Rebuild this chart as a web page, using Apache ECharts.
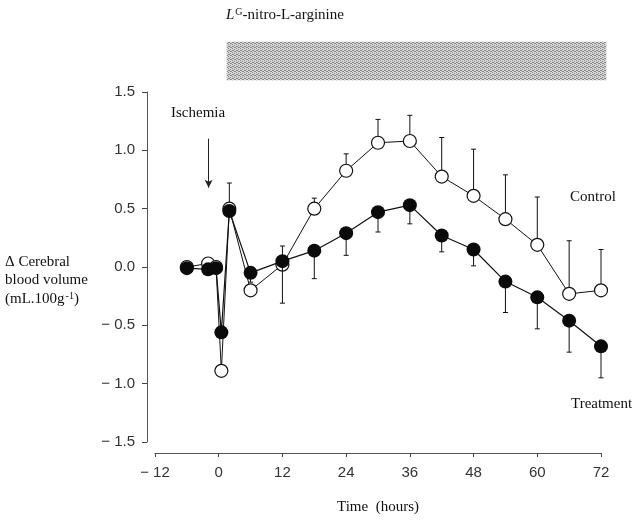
<!DOCTYPE html>
<html>
<head>
<meta charset="utf-8">
<script src="https://cdn.jsdelivr.net/npm/echarts@6/dist/echarts.min.js"></script>
<style>
html,body{margin:0;padding:0;background:#fff;}
#c{width:643px;height:524px;}
</style>
</head>
<body>
<div id="c"></div>
<script>
// ---- data ----
var times = [-6, -2, -0.5, 0.5, 2, 6, 12, 18, 24, 30, 36, 42, 48, 54, 60, 66, 72];
var control = [0.0, 0.03, 0.0, -0.89, 0.50, -0.20, 0.02, 0.50, 0.825, 1.065, 1.08, 0.775, 0.61, 0.41, 0.19, -0.23, -0.20];
var treatment = [-0.01, -0.02, -0.01, -0.56, 0.48, -0.05, 0.05, 0.14, 0.29, 0.47, 0.53, 0.27, 0.15, -0.125, -0.26, -0.46, -0.68];
// error bar ends (control: upper, treatment: lower); null = none
var controlErrTop = [null, null, null, null, 0.72, null, 0.18, 0.59, 0.97, 1.265, 1.30, 1.11, 1.01, 0.79, 0.60, 0.225, 0.15];
var treatmentErrBottom = [null, null, null, null, null, -0.13, -0.31, -0.10, 0.10, 0.30, 0.37, 0.13, 0.01, -0.39, -0.53, -0.73, -0.95];
var xTicks = [-12, 0, 12, 24, 36, 48, 60, 72];
var yTicks = [-1.5, -1.0, -0.5, 0.0, 0.5, 1.0, 1.5];
var drugPeriod = [1.5, 73];      // hours
var drugBand = [1.60, 1.93];     // drawn above the plot
var ischemiaTime = -1.9;
var ischemiaArrow = [1.10, 0.68];

var chart = echarts.init(document.getElementById('c'), null, {renderer: 'canvas'});

function pair(xs, ys) { return xs.map(function (x, i) { return [x, ys[i]]; }); }
function errData(ys, es) {
  var out = [];
  for (var i = 0; i < times.length; i++) if (es[i] !== null) out.push([times[i], ys[i], es[i]]);
  return out;
}

// stipple pattern
var pc = document.createElement('canvas');
pc.width = 4; pc.height = 4;
var pctx = pc.getContext('2d');
pctx.fillStyle = '#d6d6d6'; pctx.fillRect(0, 0, 4, 4);
pctx.fillStyle = '#8a8a8a';
[[0,0],[2,1],[1,2],[3,3],[2,3],[0,2]].forEach(function (p) { pctx.fillRect(p[0], p[1], 1, 1); });

function errRender(params, api) {
  var p1 = api.coord([api.value(0), api.value(1)]);
  var p2 = api.coord([api.value(0), api.value(2)]);
  var st = {stroke: '#111', lineWidth: 1};
  return {
    type: 'group',
    children: [
      {type: 'line', shape: {x1: p1[0], y1: p1[1], x2: p2[0], y2: p2[1]}, style: st},
      {type: 'line', shape: {x1: p2[0] - 2.5, y1: p2[1], x2: p2[0] + 2.5, y2: p2[1]}, style: st}
    ]
  };
}

var fmt = function (v) {
  var s = Math.abs(v);
  return (v < 0 ? '\u2212 ' : '') + s;
};

var serif = '"Liberation Serif", "Times New Roman", serif';
var sans = '"Liberation Sans", Arial, sans-serif';

var option = {
  animation: false,
  backgroundColor: '#fff',
  grid: {left: 155, right: 42, top: 92, bottom: 82},
  xAxis: {
    type: 'value', min: -12, max: 72, interval: 12, offset: 11,
    name: 'Time  (hours)', nameLocation: 'middle', nameGap: 47,
    nameTextStyle: {fontFamily: serif, fontSize: 15, color: '#111'},
    axisLine: {show: true, onZero: false, lineStyle: {color: '#555', width: 1}},
    axisTick: {show: true, length: 4, lineStyle: {color: '#444'}},
    axisLabel: {
      margin: 12, fontFamily: sans, fontSize: 15, color: '#333',
      formatter: function (v) { return xTicks.indexOf(v) >= 0 ? fmt(v) : ''; }
    },
    splitLine: {show: false}
  },
  yAxis: {
    type: 'value', min: -1.5, max: 1.5, interval: 0.5, offset: 8,
    axisLine: {show: true, onZero: false, lineStyle: {color: '#555', width: 1}},
    axisTick: {show: true, length: 5, lineStyle: {color: '#444'}},
    axisLabel: {
      margin: 12, fontFamily: sans, fontSize: 15, color: '#333',
      formatter: function (v) {
        var s = Math.abs(v).toFixed(1);
        return (v < 0 ? '\u2212 ' : '') + s;
      }
    },
    splitLine: {show: false}
  },
  graphic: [
    {type: 'text', style: {x: 171, y: 113, text: 'Ischemia', font: '15px ' + serif, fill: '#111', textVerticalAlign: 'middle'}},
    {type: 'text', style: {x: 570, y: 197, text: 'Control', font: '15px ' + serif, fill: '#111', textVerticalAlign: 'middle'}},
    {type: 'text', style: {x: 571, y: 404, text: 'Treatment', font: '15px ' + serif, fill: '#111', textVerticalAlign: 'middle'}},
    {type: 'text', style: {x: 5, y: 262, text: '\u0394 Cerebral', font: '15px ' + serif, fill: '#111', textVerticalAlign: 'middle'}},
    {type: 'text', style: {x: 5, y: 280, text: 'blood volume', font: '15px ' + serif, fill: '#111', textVerticalAlign: 'middle'}},
    {type: 'text', style: {
      x: 5, y: 291, text: '(mL.100g{s|-1})', fill: '#111', fontFamily: serif, fontSize: 15,
      rich: {s: {fontFamily: serif, fontSize: 10, verticalAlign: 'top', padding: [0, 0, 6, 1]}}
    }},
    {type: 'text', style: {
      x: 226, y: 7, text: '{i|L}{s|G}-nitro-L-arginine', fill: '#111', fontFamily: serif, fontSize: 15,
      rich: {
        i: {fontFamily: serif, fontSize: 15, fontStyle: 'italic'},
        s: {fontFamily: serif, fontSize: 10, verticalAlign: 'top', padding: [0, 0, 6, 1]}
      }
    }}
  ],
  series: [
    {
      type: 'custom', clip: false, silent: true, z: 1,
      renderItem: function (params, api) {
        var p1 = api.coord([api.value(0), api.value(3)]);
        var p2 = api.coord([api.value(1), api.value(2)]);
        return {type: 'rect', shape: {x: p1[0], y: p1[1], width: p2[0] - p1[0], height: p2[1] - p1[1]},
          style: {fill: {image: pc, repeat: 'repeat'}}};
      },
      encode: {x: [0, 1], y: [2, 3]},
      data: [[drugPeriod[0], drugPeriod[1], drugBand[0], drugBand[1]]],
      markLine: {
        silent: true, animation: false,
        label: {show: false},
        data: [
          [{coord: [-13.3, 0], symbol: 'none'}, {coord: [73.1, 0], symbol: 'none'}]
        ],
        lineStyle: {type: [1, 2], color: '#555', width: 1}
      }
    },
    {
      type: 'custom', z: 2, renderItem: errRender, clip: false,
      encode: {x: 0, y: [1, 2]},
      data: errData(control, controlErrTop),
      markLine: {
        silent: true, animation: false, label: {show: false},
        symbol: ['none', 'arrow'], symbolSize: [6, 8],
        lineStyle: {type: 'solid', color: '#222', width: 1},
        data: [[{coord: [ischemiaTime, ischemiaArrow[0]]}, {coord: [ischemiaTime, ischemiaArrow[1]]}]]
      }
    },
    {
      type: 'line', name: 'Control', z: 3,
      data: pair(times, control),
      symbol: 'circle', symbolSize: 13,
      lineStyle: {color: '#111', width: 1},
      itemStyle: {color: '#fff', borderColor: '#111', borderWidth: 1.2}
    },
    {
      type: 'custom', z: 4, renderItem: errRender, clip: false,
      encode: {x: 0, y: [1, 2]},
      data: errData(treatment, treatmentErrBottom)
    },
    {
      type: 'line', name: 'Treatment', z: 5,
      data: pair(times, treatment),
      symbol: 'circle', symbolSize: 14,
      lineStyle: {color: '#111', width: 1.2},
      itemStyle: {color: '#0a0a0a', borderColor: '#0a0a0a', borderWidth: 0}
    }
  ]
};
chart.setOption(option);
</script>
</body>
</html>
